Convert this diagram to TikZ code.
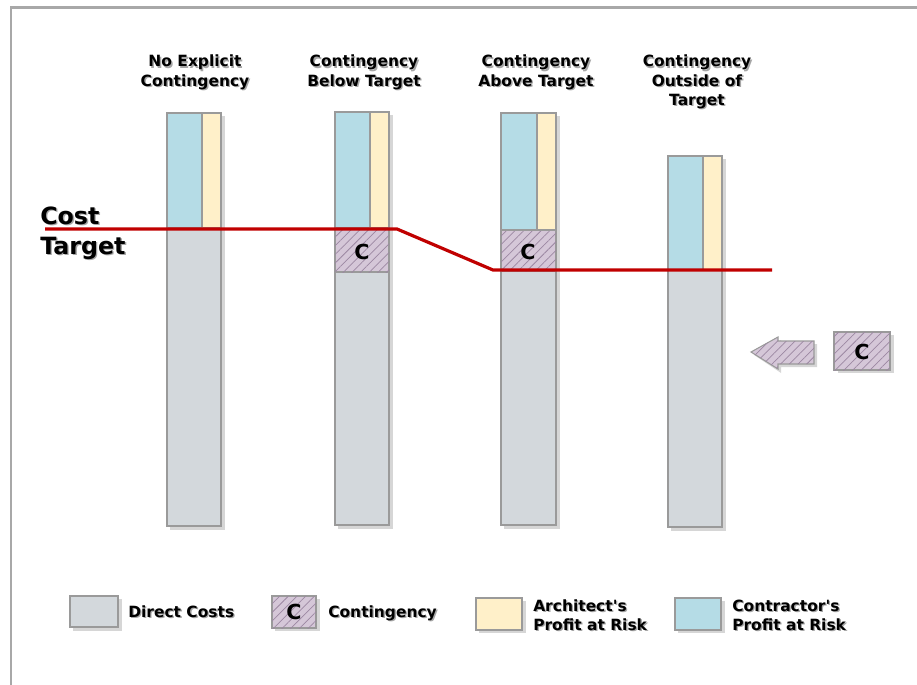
\documentclass[tikz,border=0pt]{standalone}
\usepackage{fontspec}
\setmainfont{DejaVu Sans}
\usetikzlibrary{patterns.meta}
\definecolor{blueP}{HTML}{B5DCE6}
\definecolor{creamP}{HTML}{FFF0C9}
\definecolor{grayD}{HTML}{D3D8DC}
\definecolor{purpC}{HTML}{D5C7D8}
\definecolor{hatchC}{HTML}{9C88A2}
\definecolor{edgeG}{HTML}{9A9A9A}
\definecolor{costRed}{HTML}{C00000}
\definecolor{frameG}{HTML}{A8A8A8}
\newcommand\shd[1]{\makebox[0pt][l]{\kern1pt\raisebox{-1.2pt}{\textcolor{black!35}{#1}}}#1}
\newcommand\apo{\XeTeXglyph\XeTeXcharglyph"0027\relax}
\tikzset{
  seg/.style={draw=edgeG, line width=0.8pt},
  shadowbox/.style={fill=black!16, draw=none},
  hatch/.style={fill=purpC, postaction={pattern={Lines[angle=45,distance=4.6pt,line width=0.55pt]}, pattern color=hatchC}},
  ttl/.style={font=\bfseries\fontsize{11.6}{14}\selectfont, anchor=base, inner sep=0pt},
  leg/.style={font=\bfseries\fontsize{11.6}{14}\selectfont, anchor=base west, inner sep=0pt},
  big/.style={font=\bfseries\fontsize{17.8}{20}\selectfont, anchor=base west, inner sep=0pt},
  clab/.style={font=\bfseries\fontsize{15.5}{18}\selectfont, inner sep=0pt},
  costline/.style={draw=costRed, line width=2.4pt, line join=miter},
}
\begin{document}
\begin{tikzpicture}[x=0.75pt,y=-0.75pt]
\useasboundingbox (0,0) rectangle (917,685);
% frame
\draw[frameG, line width=1.6pt] (11,685) -- (11,7.5) -- (917,7.5);

% column titles
\node[ttl] (t1a) at (195,67) {\shd{No Explicit}};
\node[ttl] (t1b) at (195,86) {\shd{Contingency}};
\node[ttl] (t2a) at (364,67) {\shd{Contingency}};
\node[ttl] (t2b) at (364,86) {\shd{Below Target}};
\node[ttl] (t3a) at (536,67) {\shd{Contingency}};
\node[ttl] (t3b) at (536,86) {\shd{Above Target}};
\node[ttl] (t4a) at (697,67) {\shd{Contingency}};
\node[ttl] (t4b) at (697,86) {\shd{Outside of}};
\node[ttl] (t4c) at (697,105) {\shd{Target}};

% bar 1
\fill[shadowbox] (170,116) rectangle (225,530);
\draw[seg, fill=grayD] (167,228) rectangle (221,526);
\draw[seg, fill=blueP] (167,113) rectangle (202,228);
\draw[seg, fill=creamP] (202,113) rectangle (221,228);

% bar 2
\fill[shadowbox] (338,115) rectangle (393,529);
\draw[seg, fill=grayD] (335,272) rectangle (389,525);
\draw[seg, hatch] (335,228) rectangle (389,272);
\draw[seg, fill=blueP] (335,112) rectangle (370,228);
\draw[seg, fill=creamP] (370,112) rectangle (389,228);
\node[clab] (c2) at (362,252) {C};

% bar 3
\fill[shadowbox] (504,116) rectangle (560,529);
\draw[seg, fill=grayD] (501,271) rectangle (556,525);
\draw[seg, hatch] (501,230) rectangle (556,271);
\draw[seg, fill=blueP] (501,113) rectangle (537,230);
\draw[seg, fill=creamP] (537,113) rectangle (556,230);
\node[clab] (c3) at (528,252) {C};

% bar 4
\fill[shadowbox] (671,159) rectangle (726,531);
\draw[seg, fill=grayD] (668,270) rectangle (722,527);
\draw[seg, fill=blueP] (668,156) rectangle (703,270);
\draw[seg, fill=creamP] (703,156) rectangle (722,270);

% cost target line
\coordinate (r0) at (45,229);
\coordinate (r1) at (397,229);
\coordinate (r2) at (493,270);
\coordinate (r3) at (772,270);
\draw[costline] (r0) -- (r1) -- (r2) -- (r3);
\node[big] (cost) at (40,224) {\shd{Cost}};
\node[big] (target) at (40,254) {\shd{Target}};

% arrow and outside C
\fill[shadowbox] (754,355) -- (781,340) -- (781,344) -- (817,344) -- (817,367) -- (781,367) -- (781,373) -- cycle;
\draw[seg, hatch] (751,352) -- (778,337) -- (778,341) -- (814,341) -- (814,364) -- (778,364) -- (778,369) -- cycle;
\fill[shadowbox] (838,335) rectangle (894,373);
\draw[seg, hatch] (834,332) rectangle (890,370);
\node[clab] (c5) at (862,352) {C};

% legend
\fill[shadowbox] (73,599) rectangle (122,631);
\draw[seg, fill=grayD] (70,596) rectangle (118,627);
\node[leg] (l1) at (128,617) {\shd{Direct Costs}};

\fill[shadowbox] (275,599) rectangle (320,631);
\draw[seg, hatch] (272,596) rectangle (316,628);
\node[clab] (c4) at (294,612) {C};
\node[leg] (l2) at (328,617) {\shd{Contingency}};

\fill[shadowbox] (479,601) rectangle (526,633);
\draw[seg, fill=creamP] (476,598) rectangle (522,630);
\node[leg] (l3a) at (533,611) {\shd{Architect\apo s}};
\node[leg] (l3b) at (533,630) {\shd{Profit at Risk}};

\fill[shadowbox] (678,601) rectangle (725,633);
\draw[seg, fill=blueP] (675,598) rectangle (721,630);
\node[leg] (l4a) at (732,611) {\shd{Contractor\apo s}};
\node[leg] (l4b) at (732,630) {\shd{Profit at Risk}};
\end{tikzpicture}
\end{document}
